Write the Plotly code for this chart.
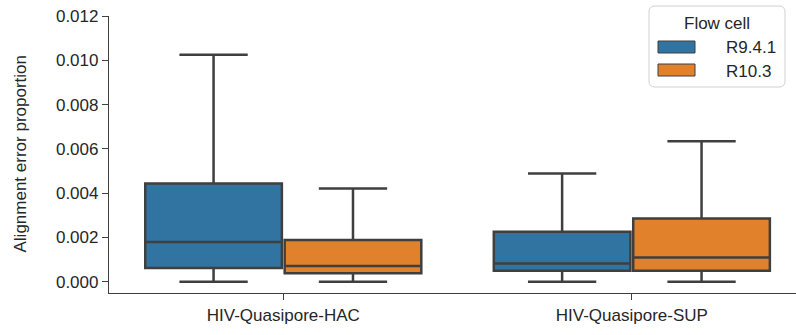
import plotly.graph_objects as go

categories = ["HIV-Quasipore-HAC", "HIV-Quasipore-SUP"]
series_names = ["R9.4.1", "R10.3"]
colors = ["#3274a1", "#e1812c"]

# per series: values for [HAC, SUP]
lower = {"R9.4.1": [0.0, 0.0], "R10.3": [0.0, 0.0]}
q1 = {"R9.4.1": [0.00062, 0.00049], "R10.3": [0.00038, 0.00049]}
median = {"R9.4.1": [0.00179, 0.00082], "R10.3": [0.00071, 0.00109]}
q3 = {"R9.4.1": [0.00444, 0.00226], "R10.3": [0.00188, 0.00285]}
upper = {"R9.4.1": [0.01025, 0.00489], "R10.3": [0.00421, 0.00634]}

ytick_vals = [0.0, 0.002, 0.004, 0.006, 0.008, 0.010, 0.012]
legend_title = "Flow cell"
y_title = "Alignment error proportion"

line_col = "#3f3f3f"
text_col = "#262626"
font_family = "Liberation Sans, Arial, sans-serif"
FS = 17

W, H = 796, 335
ML, MR, MT, MB = 109, 0, 16, 42
PW, PH = W - ML - MR, H - MT - MB


def px2x(px):
    return (px - ML) / PW


def px2y(py):
    return (H - MB - py) / PH


fig = go.Figure()
for name, col in zip(series_names, colors):
    fig.add_trace(go.Box(
        x=categories,
        q1=q1[name], median=median[name], q3=q3[name],
        lowerfence=lower[name], upperfence=upper[name],
        name=name, fillcolor=col,
        line=dict(color=line_col, width=2.5),
        whiskerwidth=0.5, boxpoints=False, showlegend=False,
    ))

# manual legend (matplotlib style) in paper coordinates
shapes = []
annotations = []
lx0, lx1, ly0, ly1, r = 649, 785, 6, 87, 6
path = (
    f"M {px2x(lx0 + r)},{px2y(ly0)} L {px2x(lx1 - r)},{px2y(ly0)} "
    f"Q {px2x(lx1)},{px2y(ly0)} {px2x(lx1)},{px2y(ly0 + r)} "
    f"L {px2x(lx1)},{px2y(ly1 - r)} Q {px2x(lx1)},{px2y(ly1)} {px2x(lx1 - r)},{px2y(ly1)} "
    f"L {px2x(lx0 + r)},{px2y(ly1)} Q {px2x(lx0)},{px2y(ly1)} {px2x(lx0)},{px2y(ly1 - r)} "
    f"L {px2x(lx0)},{px2y(ly0 + r)} Q {px2x(lx0)},{px2y(ly0)} {px2x(lx0 + r)},{px2y(ly0)} Z"
)
shapes.append(dict(type="path", xref="paper", yref="paper", path=path,
                   line=dict(color="#d0d0d0", width=1), fillcolor="rgba(255,255,255,0.8)",
                   layer="above"))
annotations.append(dict(xref="paper", yref="paper", x=px2x(717), y=px2y(23),
                        text=legend_title, showarrow=False, xanchor="center", yanchor="middle",
                        font=dict(size=FS, color=text_col, family=font_family)))
for i, (name, col) in enumerate(zip(series_names, colors)):
    cy = 47 + i * 23
    shapes.append(dict(type="rect", xref="paper", yref="paper",
                       x0=px2x(658), x1=px2x(695), y0=px2y(cy - 6), y1=px2y(cy + 6),
                       fillcolor=col, line=dict(color=line_col, width=1), layer="above"))
    annotations.append(dict(xref="paper", yref="paper", x=px2x(724), y=px2y(cy + 1),
                            text=name, showarrow=False, xanchor="left", yanchor="middle",
                            font=dict(size=FS, color=text_col, family=font_family)))

# y-axis title placed like matplotlib
annotations.append(dict(xref="paper", yref="paper", x=px2x(20), y=0.5,
                        text=y_title, textangle=-90, showarrow=False,
                        xanchor="center", yanchor="middle",
                        font=dict(size=FS, color=text_col, family=font_family)))

fig.update_layout(
    width=W, height=H,
    margin=dict(l=ML, r=MR, t=MT, b=MB),
    paper_bgcolor="white", plot_bgcolor="white",
    boxmode="group", boxgap=0.2, boxgroupgap=0.02,
    font=dict(family=font_family, size=FS, color=text_col),
    showlegend=False,
    shapes=shapes, annotations=annotations,
)
fig.update_xaxes(
    type="category", range=[-0.5, 1.471],
    showline=True, linecolor=line_col, linewidth=1.25,
    ticks="outside", ticklen=6, tickcolor=line_col, tickwidth=1.25,
    showgrid=False, zeroline=False,
)
fig.update_yaxes(
    range=[-0.00051, 0.012],
    tickvals=ytick_vals, tickformat=".3f",
    showline=True, linecolor=line_col, linewidth=1.25,
    ticks="outside", ticklen=6, tickcolor=line_col, tickwidth=1.25,
    showgrid=False, zeroline=False,
)

fig.write_html("out.html")
